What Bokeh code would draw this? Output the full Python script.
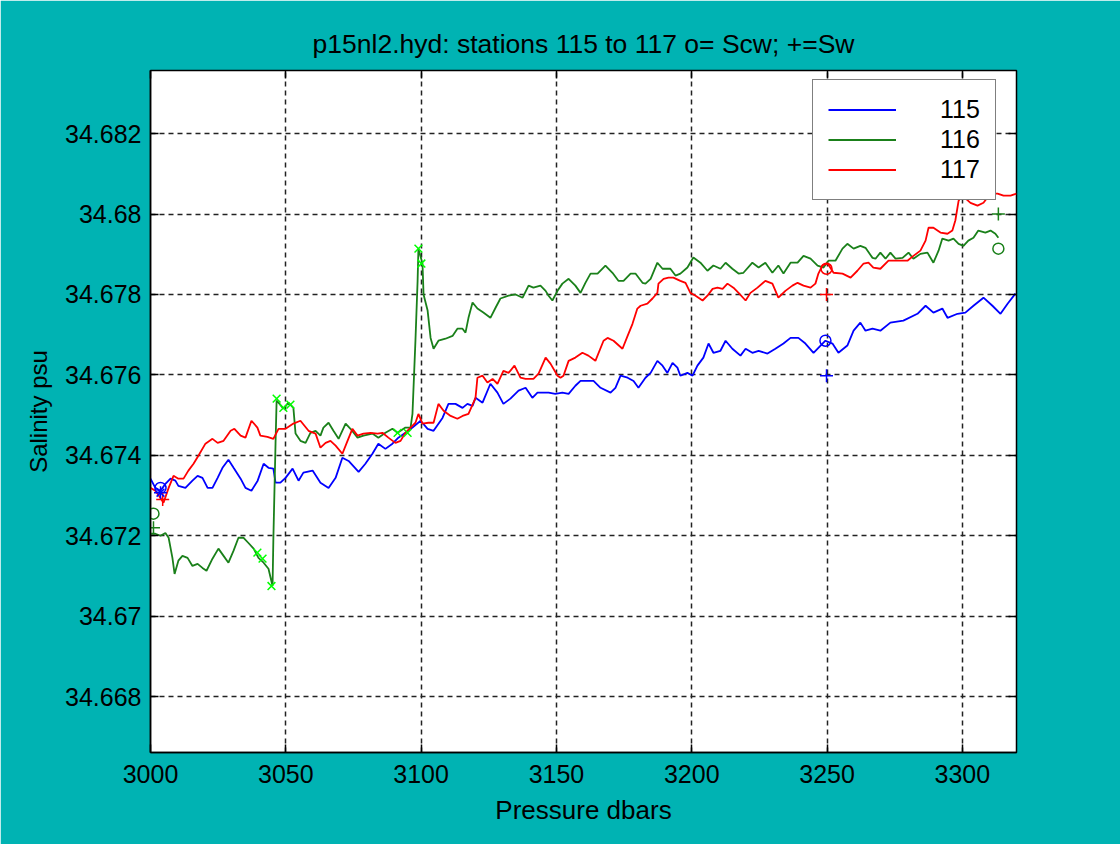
from bokeh.plotting import figure
from bokeh.models import Range1d, FixedTicker, LinearAxis, Legend, LegendItem
from bokeh.embed import file_html
from bokeh.resources import INLINE

TITLE = "p15nl2.hyd: stations 115 to 117 o= Scw; +=Sw"
X_LABEL = "Pressure dbars"
Y_LABEL = "Salinity psu"
station_names = ["115", "116", "117"]

x_ticks = [3000, 3050, 3100, 3150, 3200, 3250, 3300]
y_ticks = [34.668, 34.670, 34.672, 34.674, 34.676, 34.678, 34.680, 34.682]
y_tick_labels = ["34.668", "34.67", "34.672", "34.674", "34.676", "34.678", "34.68", "34.682"]

# station 115
P115 = [3000.0, 3001.8, 3003.7, 3005.5, 3007.4, 3009.2, 3010.3, 3012.9, 3015.5, 3017.4,
        3019.2, 3021.1, 3022.9, 3024.8, 3026.6, 3028.8, 3030.7, 3033.3, 3035.1, 3037.3,
        3039.6, 3041.8, 3043.6, 3045.4, 3046.2, 3048.0, 3049.9, 3052.5, 3054.7, 3056.5,
        3059.9, 3062.8, 3065.8, 3068.4, 3070.9, 3073.2, 3076.9, 3079.4, 3082.0, 3084.2,
        3086.8, 3089.4, 3091.6, 3094.2, 3096.8, 3099.8, 3102.4, 3104.6, 3107.9, 3110.1,
        3112.7, 3115.3, 3117.1, 3119.0, 3120.1, 3122.7, 3125.6, 3128.2, 3130.4, 3133.0,
        3136.0, 3138.6, 3141.1, 3143.0, 3147.1, 3149.6, 3152.2, 3154.5, 3157.0, 3158.9,
        3163.7, 3166.3, 3170.0, 3171.8, 3173.7, 3176.3, 3178.5, 3180.3, 3182.9, 3184.8,
        3187.3, 3189.2, 3191.0, 3192.9, 3194.7, 3195.8, 3198.4, 3200.3, 3202.1, 3204.3,
        3206.2, 3208.0, 3210.6, 3212.5, 3215.0, 3218.0, 3219.9, 3222.4, 3224.7, 3228.0,
        3230.9, 3233.9, 3236.5, 3239.4, 3242.0, 3245.0, 3247.6, 3249.4, 3252.0, 3254.2,
        3257.5, 3259.8, 3262.3, 3264.2, 3266.8, 3269.7, 3273.4, 3278.2, 3283.4, 3286.4,
        3289.3, 3292.6, 3294.5, 3298.2, 3301.1, 3304.1, 3307.8, 3311.1, 3314.1, 3316.7,
        3319.6]
S115 = [34.67342, 34.67319, 34.67312, 34.67329, 34.67342, 34.67337, 34.67324, 34.67319, 34.67337, 34.67349,
        34.67344, 34.67319, 34.67319, 34.67344, 34.67369, 34.67389, 34.67369, 34.67342, 34.67319, 34.67312,
        34.67337, 34.67379, 34.67369, 34.67367, 34.67332, 34.67332, 34.67344, 34.67367, 34.67337, 34.67357,
        34.67362, 34.67332, 34.67319, 34.67344, 34.67394, 34.67386, 34.67359, 34.67379, 34.67404, 34.67429,
        34.67416, 34.67429, 34.67444, 34.67456, 34.67469, 34.67486, 34.67466, 34.67461, 34.67493, 34.67528,
        34.67528, 34.67518, 34.67528, 34.67523, 34.67543, 34.67531, 34.67578, 34.67556, 34.67528, 34.67541,
        34.67561, 34.67568, 34.67543, 34.67556, 34.67556, 34.67553, 34.67556, 34.67553, 34.67573, 34.67585,
        34.67585, 34.67568, 34.67556, 34.67568, 34.67598, 34.67593, 34.67585, 34.67568, 34.67593, 34.67605,
        34.67635, 34.67623, 34.67605, 34.67630, 34.67618, 34.67598, 34.67605, 34.67598, 34.67623, 34.67643,
        34.67678, 34.67655, 34.67660, 34.67685, 34.67665, 34.67648, 34.67665, 34.67655, 34.67660, 34.67653,
        34.67665, 34.67678, 34.67692, 34.67692, 34.67678, 34.67655, 34.67673, 34.67685, 34.67678, 34.67655,
        34.67673, 34.67710, 34.67730, 34.67710, 34.67715, 34.67710, 34.67730, 34.67735, 34.67752, 34.67772,
        34.67755, 34.67765, 34.67742, 34.67752, 34.67755, 34.67772, 34.67792, 34.67772, 34.67752, 34.67777,
        34.67802]

# station 116
P116 = [3000.0, 3001.8, 3003.7, 3005.5, 3006.7, 3008.1, 3008.9, 3010.3, 3011.8, 3013.7,
        3015.5, 3017.4, 3019.2, 3020.7, 3022.9, 3025.1, 3027.0, 3028.8, 3030.7, 3032.5,
        3034.4, 3036.2, 3038.1, 3039.9, 3041.8, 3043.6, 3045.1, 3045.4, 3046.2, 3046.6,
        3047.3, 3049.1, 3051.0, 3052.8, 3053.6, 3055.4, 3057.3, 3059.1, 3061.0, 3062.8,
        3063.9, 3065.8, 3067.6, 3069.5, 3072.1, 3073.9, 3076.5, 3078.7, 3082.0, 3084.2,
        3086.8, 3089.4, 3091.3, 3094.2, 3096.1, 3096.8, 3097.9, 3098.7, 3099.0, 3100.5,
        3100.9, 3102.4, 3103.5, 3104.6, 3106.4, 3109.0, 3111.6, 3113.4, 3115.3, 3116.4,
        3117.5, 3119.0, 3120.8, 3123.0, 3125.6, 3127.5, 3129.3, 3132.3, 3134.9, 3137.5,
        3139.7, 3141.5, 3144.1, 3146.0, 3147.1, 3148.5, 3150.4, 3152.2, 3154.5, 3157.0,
        3158.9, 3160.7, 3162.6, 3165.2, 3168.1, 3170.7, 3172.9, 3174.8, 3177.4, 3179.2,
        3181.8, 3182.9, 3184.8, 3187.3, 3189.2, 3192.1, 3194.0, 3195.8, 3198.4, 3200.6,
        3203.2, 3205.8, 3208.0, 3210.6, 3212.5, 3215.0, 3217.3, 3219.1, 3222.4, 3224.7,
        3227.2, 3229.8, 3232.0, 3233.9, 3236.5, 3239.1, 3241.3, 3243.9, 3246.5, 3248.7,
        3250.5, 3253.1, 3255.7, 3257.5, 3259.8, 3262.3, 3264.2, 3266.8, 3267.9, 3269.7,
        3271.6, 3273.4, 3275.3, 3277.9, 3280.1, 3281.9, 3284.5, 3287.1, 3289.3, 3291.2,
        3292.6, 3294.9, 3296.7, 3298.6, 3300.4, 3302.2, 3304.1, 3305.9, 3308.5, 3310.4,
        3312.2, 3313.3]
S116 = [34.67205, 34.67205, 34.67200, 34.67207, 34.67195, 34.67145, 34.67105, 34.67138, 34.67150, 34.67145,
        34.67125, 34.67130, 34.67120, 34.67113, 34.67143, 34.67168, 34.67150, 34.67133, 34.67163, 34.67195,
        34.67195, 34.67182, 34.67168, 34.67145, 34.67133, 34.67118, 34.67075, 34.67192, 34.67429, 34.67536,
        34.67531, 34.67516, 34.67531, 34.67518, 34.67454, 34.67436, 34.67431, 34.67456, 34.67461, 34.67449,
        34.67469, 34.67481, 34.67461, 34.67441, 34.67479, 34.67466, 34.67444, 34.67449, 34.67454, 34.67444,
        34.67456, 34.67466, 34.67456, 34.67469, 34.67469, 34.67503, 34.67685, 34.67834, 34.67914, 34.67877,
        34.67800, 34.67760, 34.67692, 34.67665, 34.67685, 34.67690, 34.67697, 34.67715, 34.67715, 34.67705,
        34.67742, 34.67780, 34.67765, 34.67755, 34.67742, 34.67767, 34.67790, 34.67797, 34.67800, 34.67792,
        34.67822, 34.67817, 34.67822, 34.67809, 34.67797, 34.67785, 34.67809, 34.67827, 34.67839, 34.67822,
        34.67804, 34.67829, 34.67852, 34.67852, 34.67872, 34.67854, 34.67834, 34.67834, 34.67852, 34.67852,
        34.67829, 34.67827, 34.67839, 34.67879, 34.67864, 34.67864, 34.67847, 34.67852, 34.67867, 34.67892,
        34.67879, 34.67859, 34.67872, 34.67864, 34.67879, 34.67864, 34.67852, 34.67854, 34.67879, 34.67867,
        34.67879, 34.67854, 34.67872, 34.67852, 34.67879, 34.67879, 34.67896, 34.67889, 34.67872, 34.67867,
        34.67884, 34.67884, 34.67914, 34.67926, 34.67914, 34.67921, 34.67916, 34.67891, 34.67889, 34.67904,
        34.67889, 34.67904, 34.67889, 34.67891, 34.67904, 34.67889, 34.67901, 34.67904, 34.67879, 34.67909,
        34.67939, 34.67934, 34.67939, 34.67926, 34.67921, 34.67934, 34.67941, 34.67959, 34.67954, 34.67959,
        34.67951, 34.67941]

# station 117
P117 = [3000.0, 3001.8, 3003.7, 3004.8, 3006.7, 3008.5, 3010.3, 3012.2, 3014.0, 3015.9,
        3017.7, 3020.3, 3022.9, 3024.8, 3027.0, 3029.6, 3031.0, 3033.3, 3035.1, 3037.3,
        3039.5, 3040.6, 3043.2, 3045.4, 3047.3, 3049.9, 3052.8, 3055.4, 3058.4, 3061.0,
        3062.8, 3064.7, 3066.5, 3068.4, 3070.9, 3072.8, 3074.6, 3076.5, 3078.7, 3081.3,
        3083.9, 3085.7, 3087.9, 3090.5, 3092.4, 3094.2, 3096.1, 3097.9, 3099.0, 3100.5,
        3102.7, 3104.6, 3106.4, 3108.3, 3110.9, 3113.4, 3115.3, 3117.5, 3120.1, 3120.8,
        3122.7, 3124.5, 3126.4, 3128.2, 3130.4, 3132.3, 3134.5, 3136.7, 3138.6, 3141.5,
        3143.4, 3146.0, 3147.8, 3150.4, 3151.5, 3152.6, 3154.5, 3157.0, 3159.6, 3161.8,
        3164.4, 3167.4, 3168.9, 3171.1, 3174.4, 3176.3, 3178.1, 3179.9, 3181.1, 3183.6,
        3185.5, 3187.3, 3187.7, 3189.6, 3191.4, 3193.2, 3195.8, 3197.7, 3199.5, 3201.4,
        3204.0, 3205.8, 3207.7, 3209.5, 3211.4, 3213.2, 3215.4, 3217.3, 3219.9, 3221.7,
        3224.3, 3227.2, 3229.8, 3232.0, 3234.6, 3237.2, 3239.1, 3241.3, 3243.9, 3245.7,
        3246.8, 3248.3, 3250.2, 3252.4, 3255.7, 3258.7, 3261.2, 3263.5, 3265.3, 3267.1,
        3269.7, 3272.7, 3276.0, 3279.7, 3281.9, 3284.5, 3286.4, 3287.5, 3289.3, 3291.9,
        3294.5, 3296.3, 3297.4, 3298.6, 3300.0, 3303.0, 3305.6, 3307.8, 3310.4, 3313.0,
        3315.2, 3317.8, 3320.0]
S117 = [34.67319, 34.67312, 34.67294, 34.67282, 34.67319, 34.67349, 34.67342, 34.67342, 34.67362, 34.67379,
        34.67399, 34.67429, 34.67441, 34.67431, 34.67436, 34.67461, 34.67466, 34.67449, 34.67444, 34.67486,
        34.67469, 34.67449, 34.67446, 34.67441, 34.67466, 34.67466, 34.67479, 34.67486, 34.67461, 34.67454,
        34.67419, 34.67431, 34.67436, 34.67424, 34.67404, 34.67436, 34.67466, 34.67449, 34.67454, 34.67456,
        34.67454, 34.67456, 34.67444, 34.67431, 34.67436, 34.67456, 34.67469, 34.67481, 34.67503, 34.67479,
        34.67481, 34.67481, 34.67528, 34.67511, 34.67498, 34.67491, 34.67498, 34.67503, 34.67543, 34.67593,
        34.67598, 34.67581, 34.67590, 34.67578, 34.67610, 34.67605, 34.67623, 34.67593, 34.67590, 34.67590,
        34.67603, 34.67643, 34.67628, 34.67598, 34.67593, 34.67598, 34.67635, 34.67643, 34.67655, 34.67648,
        34.67635, 34.67685, 34.67692, 34.67685, 34.67665, 34.67697, 34.67727, 34.67765, 34.67772, 34.67777,
        34.67790, 34.67804, 34.67827, 34.67839, 34.67842, 34.67842, 34.67834, 34.67829, 34.67804, 34.67797,
        34.67785, 34.67797, 34.67814, 34.67817, 34.67814, 34.67827, 34.67817, 34.67804, 34.67785, 34.67804,
        34.67817, 34.67834, 34.67827, 34.67792, 34.67809, 34.67822, 34.67829, 34.67822, 34.67817, 34.67827,
        34.67852, 34.67872, 34.67877, 34.67854, 34.67852, 34.67842, 34.67859, 34.67877, 34.67879, 34.67867,
        34.67864, 34.67884, 34.67884, 34.67884, 34.67896, 34.67909, 34.67934, 34.67966, 34.67966, 34.67954,
        34.67951, 34.67959, 34.67984, 34.68033, 34.68046, 34.68028, 34.68021, 34.68028, 34.68051, 34.68051,
        34.68046, 34.68046, 34.68051]

# bottle samples: Scw (o) and Sw (+)
scw115_P = [3003.7, 3249.4]
scw115_S = [34.67319, 34.67685]
sw115_P = [3003.7, 3249.8]
sw115_S = [34.67307, 34.67598]
scw116_P = [3001.1, 3313.3]
scw116_S = [34.67255, 34.67914]
sw116_P = [3001.1, 3313.3]
sw116_S = [34.67220, 34.68000]
scw117_P = [3249.8]
scw117_S = [34.67864]
sw117_P = [3004.5, 3249.8]
sw117_S = [34.67290, 34.67800]
# flagged points (x)
flag115_P = [3003.7]
flag115_S = [34.67307]
flag116_P = [3039.5, 3041.4, 3044.7, 3046.6, 3049.1, 3051.7, 3091.3, 3095.0, 3099.0, 3100.1]
flag116_S = [34.67158, 34.67143, 34.67075, 34.67541, 34.67518, 34.67526, 34.67456, 34.67456, 34.67914, 34.67877]

FONT = "Liberation Sans"
TEAL = "#00b3b3"
C115, C116, C117, CFLAG = "#0000ff", "#1a801a", "#ff0000", "#00ff00"

p = figure(width=1120, height=844, output_backend="svg", toolbar_location=None,
           x_range=Range1d(3000, 3320), y_range=Range1d(34.66661, 34.68357),
           min_border_left=150, min_border_right=104, min_border_top=70, min_border_bottom=92,
           background_fill_color="white", border_fill_color=TEAL,
           outline_line_color="black", outline_line_width=1.5)

p.title.text = TITLE
p.title.align = "center"
p.title.text_font = FONT
p.title.text_font_size = "26.5px"
p.title.text_font_style = "normal"
p.title.text_color = "black"
p.title.standoff = 23

def style_axis(ax, ticks):
    ax.ticker = FixedTicker(ticks=ticks)
    ax.major_tick_in = 8
    ax.major_tick_out = 0
    ax.major_tick_line_color = "black"
    ax.major_tick_line_width = 1.5
    ax.minor_tick_line_color = None
    ax.axis_line_color = "black"
    ax.axis_line_width = 1.5
    ax.major_label_text_font = FONT
    ax.major_label_text_font_size = "25px"
    ax.major_label_text_color = "black"
    ax.axis_label_text_font = FONT
    ax.axis_label_text_font_size = "26px"
    ax.axis_label_text_font_style = "normal"
    ax.axis_label_text_color = "black"

style_axis(p.xaxis[0], x_ticks)
p.xaxis[0].axis_label = X_LABEL
p.xaxis[0].major_label_standoff = 12
p.xaxis[0].axis_label_standoff = 9

style_axis(p.yaxis[0], y_ticks)
p.yaxis[0].axis_label = Y_LABEL
p.yaxis[0].major_label_overrides = {t: l for t, l in zip(y_ticks, y_tick_labels)}
p.yaxis[0].major_label_standoff = 9
p.yaxis[0].axis_label_standoff = 10
p.yaxis[0].axis_label_text_font_size = "24px"

for loc, ticks in (("right", y_ticks), ("above", x_ticks)):
    ax = LinearAxis()
    style_axis(ax, ticks)
    ax.major_label_overrides = {t: "" for t in ticks}
    ax.major_label_standoff = 0
    ax.axis_line_color = None
    p.add_layout(ax, loc)

p.xgrid.ticker = FixedTicker(ticks=x_ticks)
p.ygrid.ticker = FixedTicker(ticks=y_ticks)
for g in (p.xgrid[0], p.ygrid[0]):
    g.grid_line_color = "#222222"
    g.grid_line_width = 1.5
    g.grid_line_dash = "5 4"
    g.grid_line_alpha = 1.0

r115 = p.line(P115, S115, line_color=C115, line_width=1.8)
r116 = p.line(P116, S116, line_color=C116, line_width=1.8)
r117 = p.line(P117, S117, line_color=C117, line_width=1.8)

for P, S, c in ((scw115_P, scw115_S, C115), (scw116_P, scw116_S, C116), (scw117_P, scw117_S, C117)):
    p.scatter(P, S, marker="circle", size=11, fill_color=None, line_color=c, line_width=1.5)
for P, S, c in ((sw115_P, sw115_S, C115), (sw116_P, sw116_S, C116), (sw117_P, sw117_S, C117)):
    p.scatter(P, S, marker="cross", size=13, line_color=c, line_width=1.5)
p.scatter(flag115_P, flag115_S, marker="x", size=11, line_color=C115, line_width=1.5)
p.scatter(flag116_P, flag116_S, marker="x", size=11, line_color=CFLAG, line_width=1.5)

legend = Legend(items=[LegendItem(label=station_names[0], renderers=[r115]),
                       LegendItem(label=station_names[1], renderers=[r116]),
                       LegendItem(label=station_names[2], renderers=[r117])],
                location=(662, 552))
legend.label_text_font = FONT
legend.label_text_font_size = "25px"
legend.label_text_color = "black"
legend.glyph_width = 68
legend.glyph_height = 27
legend.label_height = 27
legend.label_standoff = 44
legend.padding = 15
legend.spacing = 1
legend.margin = 0
legend.border_line_color = "black"
legend.border_line_width = 1.5
legend.background_fill_color = "white"
legend.background_fill_alpha = 1.0
p.add_layout(legend, "center")

open("out.html", "w").write(file_html(p, INLINE))
